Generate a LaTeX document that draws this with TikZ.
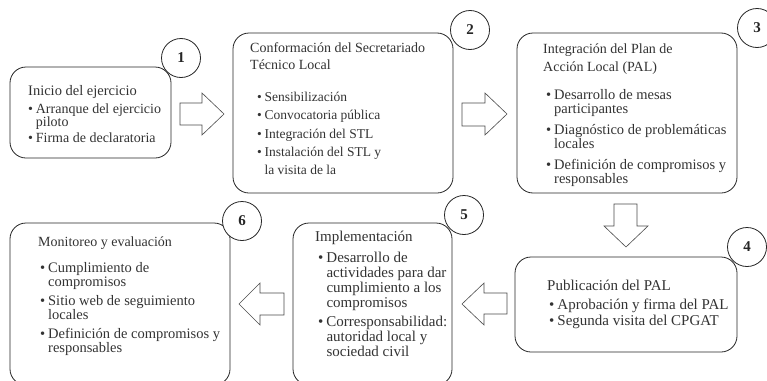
\documentclass[tikz,border=0pt]{standalone}
\usepackage{fontspec}
\setmainfont{Liberation Serif}
\newcommand\bul[2][0.55em]{\makebox[#1][l]{•}#2}
\newcommand\fsz[1]{\fontsize{#1}{#1}\selectfont}
\begin{document}
\begin{tikzpicture}[x=1pt,y=-1pt,
 box/.style={draw=black!85, line width=0.8pt, rounded corners=16pt, inner sep=0pt},
 num/.style={draw=black!85, fill=white, line width=0.8pt, circle, minimum size=39pt, inner sep=0pt, font=\fsz{15}\bfseries, text=black!85},
 ttl/.style={anchor=mid west, inner sep=0pt, text=black!80},
 itm/.style={anchor=mid west, inner sep=0pt, text=black!80},
 blk/.style={draw=black!70, line width=0.6pt, fill=white}]
\useasboundingbox (0,0) rectangle (767,380);
\clip (0,0) rectangle (767,380);
\fill[white] (0,0) rectangle (767,380);

% boxes
\node[box, minimum width=161pt, minimum height=91pt] (b1) at (90.5,112.5) {};
\node[box, minimum width=220pt, minimum height=160pt] (b2) at (343,113) {};
\node[box, minimum width=220pt, minimum height=160pt] (b3) at (627,113) {};
\node[box, minimum width=222pt, minimum height=95pt] (b4) at (626,304.5) {};
\node[box, minimum width=159pt, minimum height=162pt] (b5) at (372.5,304) {};
\node[box, minimum width=220pt, minimum height=162pt] (b6) at (120,304) {};

% number circles
\node[num] (n1) at (181,58) {1};
\node[num] (n2) at (470,30) {2};
\node[num] (n3) at (757,28) {3};
\node[num] (n4) at (747,247) {4};
\node[num] (n5) at (464,215) {5};
\node[num] (n6) at (242,221) {6};

% block arrows
\draw[blk] (180,103) -- (202,103) -- (202,93) -- (224,114) -- (202,135) -- (202,125) -- (180,125) -- cycle;
\draw[blk] (462,103) -- (485,103) -- (485,93) -- (507,114) -- (485,135) -- (485,126) -- (462,126) -- cycle;
\draw[blk] (614,204) -- (637,204) -- (637,226) -- (648,226) -- (626,247) -- (604,226) -- (614,226) -- cycle;
\draw[blk] (507,293) -- (484,293) -- (484,283) -- (462,304) -- (484,325) -- (484,314) -- (507,314) -- cycle;
\draw[blk] (284,293) -- (260,293) -- (260,283) -- (239,304) -- (260,325) -- (260,315) -- (284,315) -- cycle;

% box 1 text
\begin{scope}[every node/.append style={font=\fsz{14}}]
\node[ttl, font=\fsz{14.5}] (t1a) at (28,93) {Inicio del ejercicio};
\node[itm] (t1b) at (28,111) {\bul{Arranque del ejercicio}};
\node[itm] (t1c) at (35.7,124) {piloto};
\node[itm] (t1d) at (28,140) {\bul{Firma de declaratoria}};
\end{scope}

% box 2 text
\begin{scope}[every node/.append style={font=\fsz{13.5}}]
\node[ttl, font=\fsz{14}] (t2a) at (250,50) {Conformación del Secretariado};
\node[ttl, font=\fsz{14}] (t2b) at (250,67) {Técnico Local};
\node[itm] (t2c) at (257,99) {\bul{Sensibilización}};
\node[itm] (t2d) at (257,117) {\bul{Convocatoria pública}};
\node[itm] (t2e) at (257,136) {\bul{Integración del STL}};
\node[itm] (t2f) at (257,154) {\bul{Instalación del STL y}};
\node[itm] (t2g) at (264.4,172) {la visita de la};
\end{scope}

% box 3 text
\begin{scope}[every node/.append style={font=\fsz{14.5}}]
\node[ttl, font=\fsz{14}] (t3a) at (543,51) {Integración del Plan de};
\node[ttl, font=\fsz{14}] (t3b) at (543,69) {Acción Local (PAL)};
\node[itm] (t3c) at (546,97) {\bul{Desarrollo de mesas}};
\node[itm] (t3d) at (554,111) {participantes};
\node[itm] (t3e) at (546,132) {\bul{Diagnóstico de problemáticas}};
\node[itm] (t3f) at (554,146) {locales};
\node[itm] (t3g) at (546,167) {\bul{Definición de compromisos y}};
\node[itm] (t3h) at (554,181) {responsables};
\end{scope}

% box 4 text
\begin{scope}[every node/.append style={font=\fsz{15}}]
\node[ttl] (t4a) at (547,288) {Publicación del PAL};
\node[itm] (t4b) at (549,307) {\bul{Aprobación y firma del PAL}};
\node[itm] (t4c) at (549,323) {\bul{Segunda visita del CPGAT}};
\end{scope}

% box 5 text
\begin{scope}[every node/.append style={font=\fsz{15}}]
\node[ttl] (t5a) at (315,239) {Implementación};
\node[itm] (t5b) at (318,260) {\bul{Desarrollo de}};
\node[itm] (t5c) at (326.3,275) {actividades para dar};
\node[itm] (t5d) at (326.3,290) {cumplimiento a los};
\node[itm] (t5e) at (326.3,305) {compromisos};
\node[itm] (t5f) at (318,324) {\bul{Corresponsabilidad:}};
\node[itm] (t5g) at (326.3,339) {autoridad local y};
\node[itm] (t5h) at (326.3,354) {sociedad civil};
\end{scope}

% box 6 text
\begin{scope}[every node/.append style={font=\fsz{14.5}}]
\node[ttl, font=\fsz{14}] (t6a) at (38,244) {Monitoreo y evaluación};
\node[itm] (t6b) at (40,270) {\bul{Cumplimiento de}};
\node[itm] (t6c) at (48,284) {compromisos};
\node[itm] (t6d) at (40,303) {\bul{Sitio web de seguimiento}};
\node[itm] (t6e) at (48,317) {locales};
\node[itm] (t6f) at (40,336) {\bul{Definición de compromisos y}};
\node[itm] (t6g) at (48,350) {responsables};
\end{scope}
\end{tikzpicture}
\end{document}
